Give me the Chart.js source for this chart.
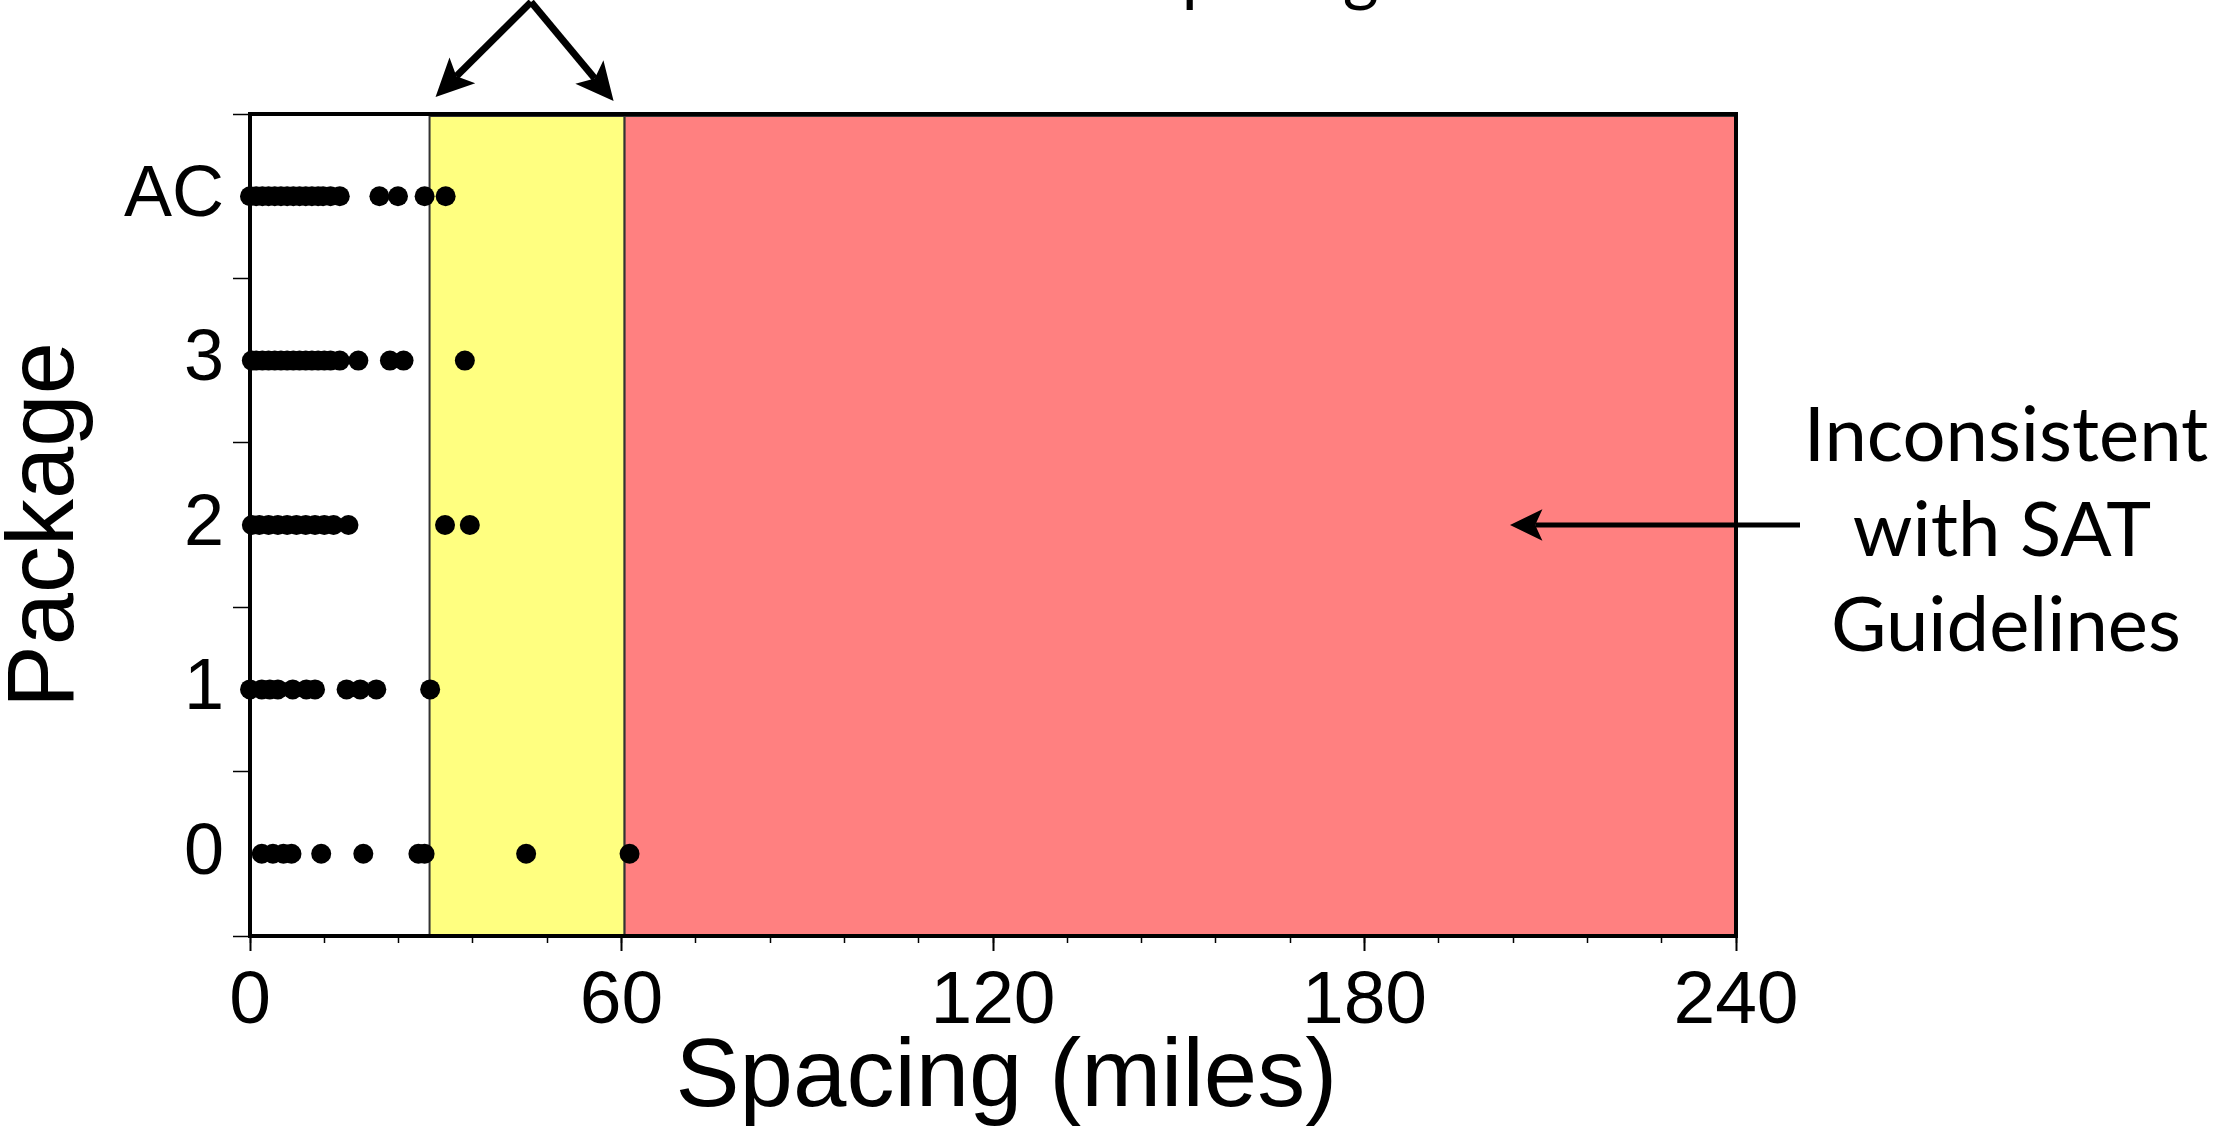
<!DOCTYPE html>
<html>
<head>
<meta charset="utf-8">
<title>Package spacing</title>
<script src="https://cdn.jsdelivr.net/npm/chart.js@4.4.1/dist/chart.umd.min.js"></script>
<style>
  html, body { margin: 0; padding: 0; background: #fff; }
  canvas { display: block; }
</style>
</head>
<body>
<canvas id="spacingChart" width="2225" height="1136"></canvas>
<script>
// Packages on the y axis (AC is drawn on row 4)
const packageLabels = ['0', '1', '2', '3', 'AC'];

// Spacing of each site, in miles, read per package
const spacing0 = [1.9, 3.7, 5.4, 6.7, 11.5, 18.3, 27.2, 28.2, 44.6, 61.3];
const spacing1 = [0, 1.9, 3.2, 4.5, 6.9, 9.1, 10.5, 15.6, 17.8, 20.4, 29.1];
const spacing2 = [0.3, 1.5, 3, 4.5, 6, 7.5, 9, 10.5, 12, 13.5, 15.9, 31.5, 35.5];
const spacing3 = [0.3, 1, 2, 3, 4, 5, 6, 7, 8, 9, 10, 11, 12, 13, 14.5, 17.5, 22.6, 24.8, 34.7];
const spacingAC = [0, 1, 2, 3, 4, 5, 6, 7, 8, 9, 10, 11, 11.8, 13, 14.5, 20.9, 23.9, 28.2, 31.6];

// Shaded ranges (miles): caution zone, then inconsistent zone
const zoneStarts = [29, 60.5];
const zoneEnds = [60.5, 240];

// Axis ranges
const xMax = 240;
const xMajorStep = 60;
const xMinorStep = 12;

const rows = [spacing0, spacing1, spacing2, spacing3, spacingAC];
const points = [];
rows.forEach((row, pkg) => {
  row.forEach(v => points.push({ x: v, y: pkg }));
});

const zoneFills = ['#ffff80', '#ff8080'];

// Shaded zones behind everything
const zonesPlugin = {
  id: 'zones',
  beforeDraw(chart) {
    const { ctx, chartArea } = chart;
    const xs = chart.scales.x;
    ctx.save();
    zoneStarts.forEach((start, i) => {
      const x0 = xs.getPixelForValue(start);
      const x1 = xs.getPixelForValue(zoneEnds[i]);
      ctx.fillStyle = zoneFills[i];
      ctx.fillRect(x0, chartArea.top + 2, x1 - x0, chartArea.bottom - chartArea.top - 2);
      ctx.strokeStyle = '#333';
      ctx.lineWidth = 2;
      ctx.strokeRect(x0, chartArea.top + 2, x1 - x0, chartArea.bottom - chartArea.top - 2);
    });
    ctx.restore();
  }
};

function arrow(ctx, x1, y1, x2, y2, width, headLen) {
  const ang = Math.atan2(y2 - y1, x2 - x1);
  const bx = x2 - Math.cos(ang) * headLen * 0.7;
  const by = y2 - Math.sin(ang) * headLen * 0.7;
  ctx.lineWidth = width;
  ctx.beginPath();
  ctx.moveTo(x1, y1);
  ctx.lineTo(bx, by);
  ctx.stroke();
  ctx.beginPath();
  ctx.moveTo(x2, y2);
  ctx.lineTo(x2 - headLen * Math.cos(ang - 0.45), y2 - headLen * Math.sin(ang - 0.45));
  ctx.lineTo(bx, by);
  ctx.lineTo(x2 - headLen * Math.cos(ang + 0.45), y2 - headLen * Math.sin(ang + 0.45));
  ctx.closePath();
  ctx.fill();
}

// Frame, arrows and notes
const notesPlugin = {
  id: 'notes',
  afterDraw(chart) {
    const { ctx, chartArea } = chart;
    const xs = chart.scales.x;
    const ys = chart.scales.y;
    ctx.save();
    ctx.strokeStyle = '#000';
    ctx.fillStyle = '#000';
    ctx.lineWidth = 4;
    ctx.beginPath();
    ctx.moveTo(chartArea.left - 2, chartArea.top);
    ctx.lineTo(chartArea.right, chartArea.top);
    ctx.lineTo(chartArea.right, chartArea.bottom + 2);
    ctx.stroke();

    // arrows pointing at the caution zone edges
    const apexX = (xs.getPixelForValue(zoneStarts[0]) + xs.getPixelForValue(zoneEnds[0])) / 2 + 4;
    arrow(ctx, apexX, 2, xs.getPixelForValue(zoneStarts[0]) + 6, chartArea.top - 17, 7, 42);
    arrow(ctx, apexX, 2, xs.getPixelForValue(zoneEnds[0]) - 11, chartArea.top - 13, 7, 42);

    // clipped heading above the figure
    ctx.font = '69px Lato';
    ctx.textAlign = 'left';
    ctx.textBaseline = 'alphabetic';
    ctx.fillText('Spacing', 1145, -2);

    // note on the right
    ctx.font = '76px Lato';
    ctx.textAlign = 'center';
    ctx.fillText('Inconsistent', 2006, 461);
    ctx.fillText('with SAT', 2002, 556);
    ctx.fillText('Guidelines', 2006, 651);
    const ay = ys.getPixelForValue(2);
    arrow(ctx, 1800, ay, 1510, ay, 5, 36);
    ctx.restore();
  }
};

const ctx = document.getElementById('spacingChart');

new Chart(ctx, {
  type: 'scatter',
  data: {
    datasets: [{
      data: points,
      backgroundColor: '#000',
      borderWidth: 0,
      pointRadius: 10,
      pointHoverRadius: 10,
      clip: false
    }]
  },
  options: {
    responsive: false,
    devicePixelRatio: 1,
    animation: false,
    layout: { padding: { top: 114, right: 489, left: 0, bottom: 0 } },
    plugins: {
      legend: { display: false },
      tooltip: { enabled: false }
    },
    scales: {
      x: {
        type: 'linear',
        position: 'bottom',
        weight: 1,
        min: 0,
        max: xMax,
        afterFit: s => { s.height = 200; },
        ticks: {
          stepSize: xMajorStep,
          autoSkip: false,
          maxRotation: 0,
          padding: 6,
          color: '#000',
          font: { family: 'Liberation Sans', size: 75 }
        },
        grid: {
          drawOnChartArea: false,
          tickLength: 15,
          tickWidth: 2,
          tickColor: '#000'
        },
        border: { display: true, color: '#000', width: 4 },
        title: {
          display: true,
          text: ' Spacing (miles)',
          color: '#000',
          font: { family: 'Liberation Sans', size: 96, lineHeight: 1 },
          padding: { top: 0, bottom: 8 }
        }
      },
      xMinor: {
        type: 'linear',
        axis: 'x',
        position: 'bottom',
        weight: 0,
        min: 0,
        max: xMax,
        afterFit: s => { s.height = 0; },
        ticks: { stepSize: xMinorStep, autoSkip: false, display: false },
        grid: {
          drawOnChartArea: false,
          tickLength: 7,
          tickWidth: 1.5,
          tickColor: '#000'
        },
        border: { display: false }
      },
      y: {
        type: 'linear',
        position: 'left',
        min: -0.5,
        max: packageLabels.length - 0.5,
        afterFit: s => { s.width = 250; },
        ticks: {
          stepSize: 0.5,
          autoSkip: false,
          padding: 9,
          color: '#000',
          font: { family: 'Liberation Sans', size: 72 },
          callback: v => Number.isInteger(v) ? packageLabels[v] : ''
        },
        grid: {
          drawOnChartArea: false,
          tickLength: 17,
          tickWidth: 1.5,
          tickColor: c => Number.isInteger(c.tick.value) ? 'rgba(0,0,0,0)' : '#000'
        },
        border: { display: true, color: '#000', width: 4 },
        title: {
          display: true,
          text: 'Package',
          color: '#000',
          font: { family: 'Liberation Sans', size: 94, lineHeight: 1 },
          padding: { top: 0, bottom: 0 }
        }
      }
    }
  },
  plugins: [zonesPlugin, notesPlugin]
});
</script>
</body>
</html>
